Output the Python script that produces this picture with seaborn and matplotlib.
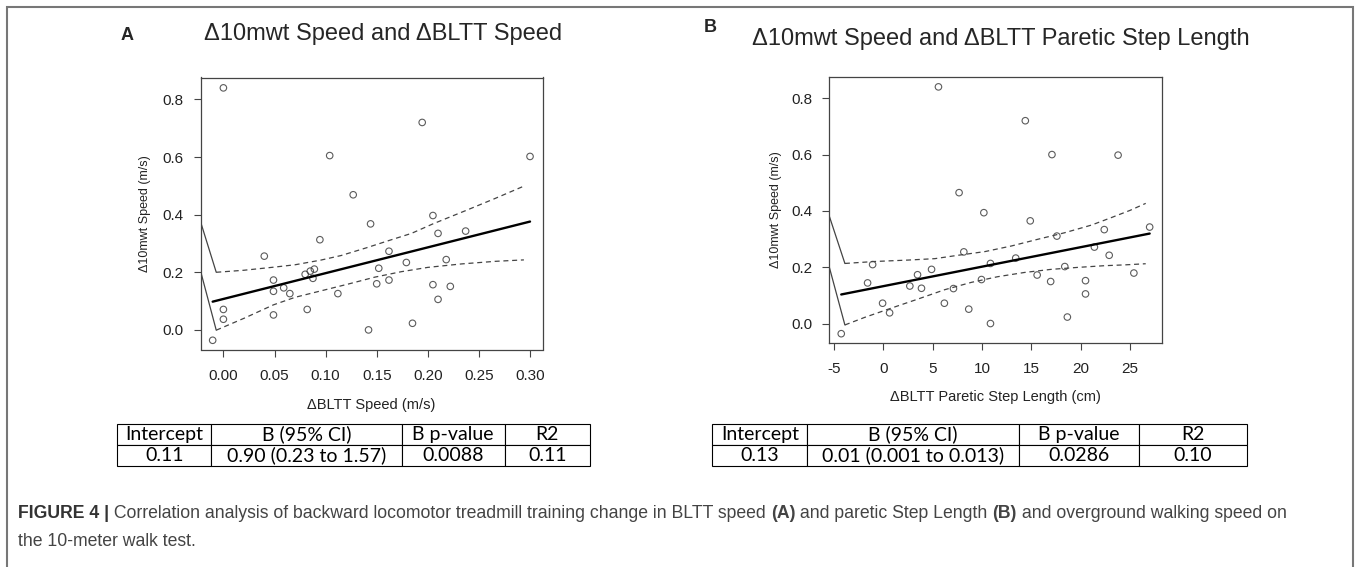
import numpy as np
import pandas as pd
import seaborn as sns
import matplotlib.pyplot as plt
from matplotlib.patches import Rectangle
from matplotlib.text import Annotation

# %% Data

# Panel A: change in BLTT speed (m/s) vs change in 10mwt speed (m/s)
bltt_speed = [-0.0105, 0.0, 0.0, 0.0, 0.040, 0.049, 0.049, 0.049, 0.059, 0.065,
              0.080, 0.085, 0.089, 0.0876, 0.082, 0.0944, 0.104, 0.112, 0.127, 0.144,
              0.142, 0.152, 0.150, 0.162, 0.162, 0.179, 0.185, 0.1945, 0.205, 0.205,
              0.210, 0.210, 0.218, 0.222, 0.237, 0.300]
mwt_a = [-0.036, 0.071, 0.037, 0.840, 0.256, 0.173, 0.134, 0.052, 0.146, 0.126,
         0.193, 0.204, 0.211, 0.179, 0.071, 0.313, 0.605, 0.126, 0.469, 0.368,
         0.000, 0.214, 0.160, 0.273, 0.173, 0.234, 0.023, 0.720, 0.397, 0.157,
         0.335, 0.106, 0.244, 0.151, 0.343, 0.602]

# Panel B: change in paretic step length (cm) vs change in 10mwt speed (m/s)
step_len = [-4.25, -1.58, -1.07, -0.06, 0.65, 2.70, 3.48, 3.88, 4.90, 5.60,
            6.20, 7.12, 7.69, 8.17, 8.67, 9.96, 10.2, 10.87, 10.87, 13.43,
            14.4, 14.9, 15.6, 16.97, 17.1, 17.6, 18.4, 18.66, 20.5, 20.5,
            21.4, 22.4, 22.9, 23.8, 25.4, 27.0]
mwt_b = [-0.035, 0.145, 0.210, 0.073, 0.039, 0.134, 0.174, 0.126, 0.193, 0.840,
         0.073, 0.125, 0.465, 0.255, 0.052, 0.157, 0.394, 0.214, 0.001, 0.233,
         0.720, 0.365, 0.173, 0.150, 0.600, 0.311, 0.203, 0.024, 0.153, 0.106,
         0.272, 0.334, 0.243, 0.598, 0.180, 0.343]

# fitted lines as drawn in the original (end points)
a_fit_x = [-0.0105, 0.300]
a_fit_y = [0.098, 0.376]
b_fit_x = [-4.25, 27.0]
b_fit_y = [0.104, 0.320]

# dashed confidence lines as drawn in the original
a_hi_x = [-0.007, 0.02, 0.05, 0.07, 0.095, 0.115, 0.14, 0.16, 0.184, 0.205, 0.237, 0.265, 0.294]
a_hi_y = [0.200, 0.207, 0.218, 0.226, 0.242, 0.258, 0.285, 0.308, 0.335, 0.368, 0.414, 0.455, 0.499]
a_lo_x = [-0.007, 0.0206, 0.049, 0.070, 0.096, 0.122, 0.148, 0.174, 0.200, 0.233, 0.266, 0.294]
a_lo_y = [-0.001, 0.041, 0.087, 0.113, 0.136, 0.159, 0.183, 0.202, 0.217, 0.229, 0.238, 0.243]
b_hi_x = [-3.88, -0.84, 2.53, 5.23, 7.59, 10.3, 13.0, 15.7, 18.4, 21.1, 23.0, 25.0, 26.6]
b_hi_y = [0.214, 0.221, 0.226, 0.231, 0.243, 0.256, 0.276, 0.300, 0.323, 0.350, 0.375, 0.402, 0.427]
b_lo_x = [-3.88, -1.86, 0.85, 3.54, 6.24, 8.94, 11.6, 14.3, 17.0, 19.7, 22.4, 24.5, 26.6]
b_lo_y = [-0.004, 0.023, 0.056, 0.088, 0.121, 0.147, 0.167, 0.182, 0.193, 0.200, 0.206, 0.209, 0.213]

# the two stray solid strokes at the left edge of each panel
a_stub_x = [-0.0224, -0.007]
a_stub_hi = [0.376, 0.200]
a_stub_lo = [0.205, -0.001]
b_stub_x = [-5.49, -3.88]
b_stub_hi = [0.385, 0.214]
b_stub_lo = [0.205, -0.004]

a_xticks = [0.00, 0.05, 0.10, 0.15, 0.20, 0.25, 0.30]
a_xticklabels = ["0.00", "0.05", "0.10", "0.15", "0.20", "0.25", "0.30"]
b_xticks = [-5, 0, 5, 10, 15, 20, 25]
b_xticklabels = ["-5", "0", "5", "10", "15", "20", "25"]
yticks = [0.0, 0.2, 0.4, 0.6, 0.8]
yticklabels = ["0.0", "0.2", "0.4", "0.6", "0.8"]

table_cols = ["Intercept", "B (95% CI)", "B p-value", "R2"]
table_a = ["0.11", "0.90 (0.23 to 1.57)", "0.0088", "0.11"]
table_b = ["0.13", "0.01 (0.001 to 0.013)", "0.0286", "0.10"]

# %% Figure

sns.set_style("ticks")
plt.rcParams["font.family"] = ["Liberation Sans", "DejaVu Sans"]

W, H = 1357, 567
fig = plt.figure(figsize=(W / 100, H / 100), dpi=100)


def px(left, top, right, bottom):
    return [left / W, 1 - bottom / H, (right - left) / W, (bottom - top) / H]


def panel(rect, x, y, fit_x, fit_y, hi_x, hi_y, lo_x, lo_y, stub_x, stub_hi, stub_lo,
          xlim, ylim, xticks, xticklabels, xlabel):
    ax = fig.add_axes(rect)
    sns.regplot(x=x, y=y, ax=ax, fit_reg=False, marker="o",
                scatter_kws={"s": 22, "facecolors": "none", "edgecolors": "#333333",
                             "linewidths": 0.8})
    ax.plot(fit_x, fit_y, color="black", lw=1.7)
    ax.plot(hi_x, hi_y, color="#444444", lw=0.9, ls=(0, (4, 3)))
    ax.plot(lo_x, lo_y, color="#444444", lw=0.9, ls=(0, (4, 3)))
    ax.plot(stub_x, stub_hi, color="#444444", lw=0.9)
    ax.plot(stub_x, stub_lo, color="#444444", lw=0.9)
    ax.set_xlim(xlim)
    ax.set_ylim(ylim)
    ax.set_xticks(xticks, xticklabels)
    ax.set_yticks(yticks, yticklabels)
    for s in ax.spines.values():
        s.set_visible(True)
        s.set_color("#444444")
        s.set_linewidth(0.9)
    ax.tick_params(direction="out", length=5, width=0.8, color="#444444",
                   labelsize=11, labelcolor="#222222", pad=7)
    ax.tick_params(axis="x", pad=9)
    ax.set_xlabel(xlabel, fontsize=10.5, color="#222222")
    ax.set_ylabel("Δ10mwt Speed (m/s)", fontsize=9, color="#222222")
    ax.xaxis.label.set_va("center")
    ax.yaxis.label.set_va("center")
    return ax


ax_a = panel(px(200.5, 77.5, 542.7, 349.5), bltt_speed, mwt_a, a_fit_x, a_fit_y,
             a_hi_x, a_hi_y, a_lo_x, a_lo_y, a_stub_x, a_stub_hi, a_stub_lo,
             (-0.0224, 0.3124), (-0.068, 0.876), a_xticks, a_xticklabels,
             "ΔBLTT Speed (m/s)")
ax_a.xaxis.set_label_coords(0.5, -0.204)
ax_a.yaxis.set_label_coords(-0.162, 0.5)

ax_b = panel(px(829, 77, 1162, 343), step_len, mwt_b, b_fit_x, b_fit_y,
             b_hi_x, b_hi_y, b_lo_x, b_lo_y, b_stub_x, b_stub_hi, b_stub_lo,
             (-5.49, 28.25), (-0.068, 0.875), b_xticks, b_xticklabels,
             "ΔBLTT Paretic Step Length (cm)")
ax_b.xaxis.set_label_coords(0.5, -0.203)
ax_b.yaxis.set_label_coords(-0.159, 0.5)

# panel letters and titles
fig.text(127 / W, 1 - 35 / H, "A", fontsize=13, weight="bold", ha="center", va="center")
fig.text(203.5 / W, 1 - 34 / H, "Δ10mwt Speed and ΔBLTT Speed", fontsize=17,
         ha="left", va="center")
fig.text(710 / W, 1 - 28 / H, "B", fontsize=13, weight="bold", ha="center", va="center")
fig.text(752 / W, 1 - 39 / H, "Δ10mwt Speed and ΔBLTT Paretic Step Length", fontsize=17,
         ha="left", va="center")


def stat_table(rect, row, widths):
    tax = fig.add_axes(rect)
    tax.axis("off")
    tb = tax.table(cellText=[table_cols, row], colWidths=widths, cellLoc="center",
                   bbox=[0, 0, 1, 1])
    tb.auto_set_font_size(False)
    for cell in tb.get_celld().values():
        cell.set_linewidth(0.8)
        cell.set_edgecolor("black")
        cell.get_text().set_fontsize(14)
        cell.get_text().set_fontfamily(["Lato", "DejaVu Sans"])
        cell.get_text().set_color("black")


stat_table(px(117.4, 424, 590.2, 466), table_a, [94, 190.6, 102.7, 85.7])
stat_table(px(712.4, 424, 1246.5, 466), table_b, [95, 212, 120, 108])

# caption with bold pieces
line1 = [("FIGURE 4 |", "bold"),
         (" Correlation analysis of backward locomotor treadmill training change in BLTT speed ", "normal"),
         ("(A)", "bold"), (" and paretic Step Length ", "normal"), ("(B)", "bold"),
         (" and overground walking speed on", "normal")]
prev = fig.text(18 / W, 1 - 513 / H, line1[0][0], fontsize=12.7, weight=line1[0][1],
                color="#333333", va="center")
for txt, wt in line1[1:]:
    prev = fig.add_artist(Annotation(txt, xy=(1, 0), xycoords=prev, fontsize=12.7,
                                     weight=wt, color="#444444", ha="left", va="bottom"))
fig.text(18 / W, 1 - 542 / H, "the 10-meter walk test.", fontsize=12.7, color="#444444",
         va="center")

# outer frame of the figure panel
fig.add_artist(Rectangle((7 / W, -0.05), (1353 - 7) / W, 1.05 - 7 / H,
                         transform=fig.transFigure, fill=False, edgecolor="#777777",
                         lw=1.5, clip_on=False))

fig.savefig("out.png", dpi=100)
